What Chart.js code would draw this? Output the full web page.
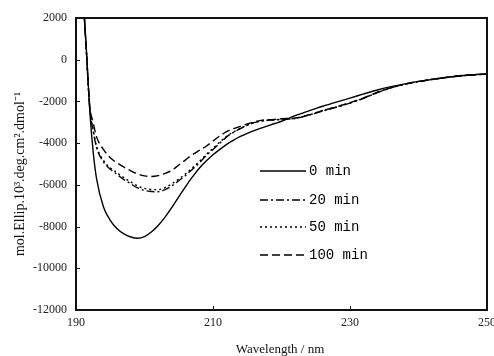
<!DOCTYPE html>
<html><head><meta charset="utf-8">
<script src="https://cdn.jsdelivr.net/npm/chart.js@4"></script>
<style>html,body{margin:0;padding:0;background:#fff}#wrap{width:494px;height:356px}</style>
</head><body><div id="wrap"><canvas id="c" width="494" height="356"></canvas></div>
<script>
const wavelengths = [191,191.5,192,192.5,193,194,195,196,197,198,199,200,201,202,203,204,205,206,207,208,209,210,211,212,213,214,215,216,217,218,219,220,222,224,226,228,230,232,234,236,238,240,242,244,246,248,250];
const min0   = [3200,560,-2400,-4400,-5700,-7050,-7700,-8100,-8350,-8500,-8560,-8480,-8260,-7950,-7550,-7080,-6580,-6080,-5620,-5200,-4860,-4560,-4300,-4060,-3860,-3680,-3530,-3400,-3280,-3170,-3060,-2950,-2680,-2450,-2230,-2030,-1840,-1640,-1450,-1290,-1160,-1040,-940,-850,-780,-720,-680];
const min20  = [3200,500,-2300,-3400,-4200,-4900,-5250,-5500,-5750,-5950,-6150,-6270,-6320,-6330,-6230,-6050,-5800,-5550,-5250,-4950,-4600,-4300,-4000,-3700,-3480,-3300,-3150,-3020,-2950,-2910,-2890,-2860,-2820,-2660,-2460,-2280,-2080,-1850,-1580,-1350,-1180,-1050,-950,-860,-780,-730,-700];
const min50  = [3200,500,-2300,-3350,-4150,-4820,-5180,-5420,-5660,-5860,-6050,-6170,-6220,-6230,-6130,-5950,-5720,-5470,-5180,-4880,-4550,-4250,-3950,-3670,-3460,-3290,-3140,-3010,-2940,-2900,-2880,-2850,-2810,-2650,-2450,-2270,-2070,-1840,-1570,-1340,-1170,-1040,-940,-850,-770,-720,-690];
const min100 = [3200,500,-2200,-3000,-3700,-4300,-4700,-4950,-5150,-5330,-5480,-5570,-5600,-5560,-5450,-5300,-5050,-4800,-4550,-4350,-4150,-3900,-3650,-3450,-3300,-3200,-3080,-2980,-2910,-2880,-2860,-2830,-2790,-2640,-2440,-2260,-2060,-1830,-1560,-1340,-1170,-1040,-940,-850,-770,-720,-690];
const seriesLabels = ["0 min","20 min","50 min","100 min"];
const xTicks = [190,210,230,250];
const yTicks = [2000,0,-2000,-4000,-6000,-8000,-10000,-12000];

const seriesValues = [min0,min20,min50,min100];
const dashes = [[],[8,3,2,3],[2,3],[8,4]];
const toPts = arr => wavelengths.map((w,i)=>({x:w,y:arr[i]}));

const serif = "'Liberation Serif','Times New Roman',serif";

const decor = {
  id:'decor',
  afterDatasetsDraw(chart){
    const ctx = chart.ctx, a = chart.chartArea;
    const xs = chart.scales.x, ys = chart.scales.y;
    ctx.save();
    ctx.strokeStyle = '#111';
    ctx.lineWidth = 1;
    xTicks.forEach(v=>{const p=Math.round(xs.getPixelForValue(v))+0.5;ctx.beginPath();ctx.moveTo(p,a.bottom);ctx.lineTo(p,a.bottom-4);ctx.stroke();});
    yTicks.forEach(v=>{const p=Math.round(ys.getPixelForValue(v))+0.5;ctx.beginPath();ctx.moveTo(a.left,p);ctx.lineTo(a.left+4,p);ctx.stroke();});
    ctx.lineWidth = 2;
    ctx.strokeRect(a.left, a.top, a.right-a.left, a.bottom-a.top);
    const rows = [171,200,227,255];
    chart.data.datasets.forEach((ds,i)=>{
      ctx.beginPath();
      ctx.setLineDash(ds.borderDash||[]);
      ctx.lineWidth = 1.6;
      ctx.strokeStyle = '#000';
      ctx.moveTo(260, rows[i]); ctx.lineTo(306, rows[i]); ctx.stroke();
      ctx.setLineDash([]);
      ctx.fillStyle = '#000';
      ctx.font = "14px 'Liberation Mono',monospace";
      ctx.textBaseline = 'middle';
      ctx.textAlign = 'left';
      ctx.fillText(ds.label, 309, rows[i]);
    });
    ctx.fillStyle = '#111';
    ctx.font = "13px " + serif;
    ctx.textAlign = 'center';
    ctx.textBaseline = 'alphabetic';
    ctx.fillText('Wavelength / nm', 280, 353);
    ctx.save();
    ctx.translate(24, 174);
    ctx.rotate(-Math.PI/2);
    ctx.font = "14px " + serif;
    ctx.fillText('mol.Ellip.10\u00B3.deg.cm\u00B2.dmol\u207B\u00B9', 0, 0);
    ctx.restore();
    ctx.restore();
  }
};

new Chart(document.getElementById('c'), {
  type:'line',
  data:{datasets: seriesValues.map((s,i)=>({
    label: seriesLabels[i], data: toPts(s), borderColor:'#000', borderWidth:1.4,
    borderDash: dashes[i], pointRadius:0, cubicInterpolationMode:'monotone', fill:false
  }))},
  options:{
    responsive:false, animation:false, devicePixelRatio:1,
    layout:{padding:{top:18,right:7,left:0,bottom:0}},
    plugins:{legend:{display:false}, tooltip:{enabled:false}},
    scales:{
      x:{type:'linear', min:190, max:250,
        afterBuildTicks: s=>{s.ticks = xTicks.map(v=>({value:v}));},
        afterFit: s=>{s.height = 46; s.paddingLeft = 0; s.paddingRight = 0;},
        grid:{display:false, drawTicks:false}, border:{display:false},
        ticks:{padding:6, font:{family:serif,size:12}, color:'#222', callback:v=>String(v), maxRotation:0}
      },
      y:{type:'linear', min:-12000, max:2000,
        afterBuildTicks: s=>{s.ticks = yTicks.map(v=>({value:v}));},
        afterFit: s=>{s.width = 76; s.paddingTop = 0; s.paddingBottom = 0;},
        grid:{display:false, drawTicks:false}, border:{display:false},
        ticks:{padding:9, font:{family:serif,size:12}, color:'#222', callback:v=>String(v)}
      }
    }
  },
  plugins:[decor]
});
</script></body></html>
